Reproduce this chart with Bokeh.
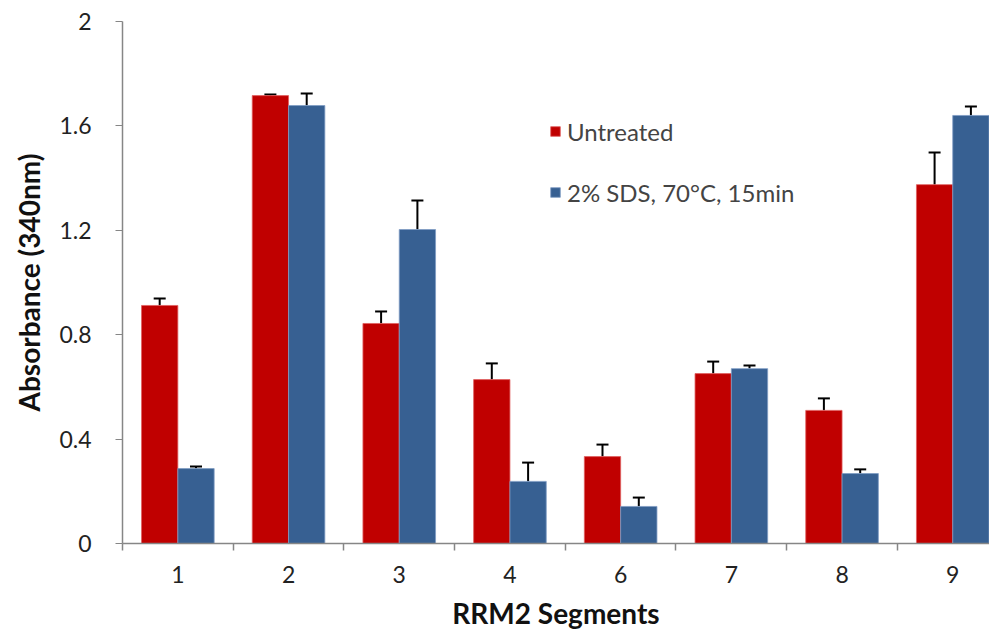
import numpy as np
from bokeh.plotting import figure
from bokeh.models import (ColumnDataSource, Range1d, FixedTicker, Whisker, TeeHead,
                          Legend, LegendItem)
from bokeh.embed import file_html
from bokeh.resources import INLINE

# ---- data ----
segments = ["1", "2", "3", "4", "6", "7", "8", "9"]
untreated = [0.912, 1.716, 0.843, 0.628, 0.333, 0.651, 0.510, 1.375]
untreated_err = [0.027, 0.004, 0.046, 0.062, 0.046, 0.046, 0.046, 0.123]
sds = [0.287, 1.678, 1.203, 0.238, 0.142, 0.670, 0.268, 1.640]
sds_err = [0.008, 0.046, 0.111, 0.072, 0.034, 0.012, 0.016, 0.034]
series_names = ["Untreated", "2% SDS, 70\u00b0C, 15min"]
y_ticks = [0, 0.4, 0.8, 1.2, 1.6, 2.0]
y_tick_labels = ["0", "0.4", "0.8", "1.2", "1.6", "2"]

RED = "#C00000"
BLUE = "#376092"
FONT = "Lato"

n = len(segments)
centers = np.arange(n) + 0.5
bw = 0.328

src_u = ColumnDataSource(dict(x=centers - bw / 2, top=untreated,
                              upper=np.array(untreated) + np.array(untreated_err)))
src_s = ColumnDataSource(dict(x=centers + bw / 2, top=sds,
                              upper=np.array(sds) + np.array(sds_err)))

p = figure(width=989, height=638, output_backend="svg", toolbar_location=None,
           x_range=Range1d(0, 7.832), y_range=Range1d(0, 2.0),
           min_border_left=122, min_border_right=0, min_border_top=21,
           min_border_bottom=95)
p.outline_line_color = None
p.xgrid.grid_line_color = None
p.ygrid.grid_line_color = None

r_u = p.vbar(x="x", top="top", width=bw, source=src_u, fill_color=RED,
             line_color="#e06060", line_width=0.8)
r_s = p.vbar(x="x", top="top", width=bw, source=src_s, fill_color=BLUE,
             line_color="#7f9cc4", line_width=0.8)

for src in (src_u, src_s):
    w = Whisker(base="x", lower="top", upper="upper", source=src,
                line_color="black", line_width=2,
                upper_head=TeeHead(size=12, line_color="black", line_width=2),
                lower_head=None)
    p.add_layout(w)

# x axis
p.xaxis.ticker = FixedTicker(ticks=list(centers), minor_ticks=list(np.arange(n + 1)))
p.xaxis.major_label_overrides = {float(c): s for c, s in zip(centers, segments)}
p.xaxis.major_tick_line_color = None
p.xaxis.minor_tick_line_color = "#868686"
p.xaxis.minor_tick_out = 7
p.xaxis.minor_tick_in = 0
p.xaxis.minor_tick_line_width = 1.5
p.xaxis.axis_line_color = "#868686"
p.xaxis.axis_line_width = 1.5
p.xaxis.major_label_standoff = 15
p.xaxis.axis_label = "RRM2 Segments"
p.xaxis.axis_label_standoff = 10

# y axis
p.yaxis.ticker = FixedTicker(ticks=y_ticks)
p.yaxis.major_label_overrides = {float(t): s for t, s in zip(y_ticks, y_tick_labels)}
p.yaxis.major_tick_line_color = "#868686"
p.yaxis.major_tick_out = 7
p.yaxis.major_tick_in = 0
p.yaxis.minor_tick_line_color = None
p.yaxis.axis_line_color = "#868686"
p.yaxis.axis_line_width = 1.5
p.yaxis.major_label_standoff = 24
p.yaxis.axis_label = "Absorbance (340nm)"
p.yaxis.axis_label_standoff = 10

for ax in (p.xaxis[0], p.yaxis[0]):
    ax.major_label_text_font = FONT
    ax.major_label_text_font_size = "23px"
    ax.major_label_text_color = "#222222"
    ax.axis_label_text_font = FONT
    ax.axis_label_text_font_size = "28px"
    ax.axis_label_text_font_style = "bold"
    ax.axis_label_text_color = "#111111"

legend = Legend(items=[LegendItem(label=series_names[0], renderers=[r_u]),
                       LegendItem(label=series_names[1], renderers=[r_s])],
                location=(427, 336), orientation="vertical",
                glyph_width=12, glyph_height=12, label_standoff=6,
                label_text_font=FONT, label_text_font_size="24px",
                label_height=30, spacing=31, padding=0, margin=0,
                border_line_color=None, background_fill_alpha=0)
p.add_layout(legend)

open("out.html", "w").write(file_html(p, INLINE))
